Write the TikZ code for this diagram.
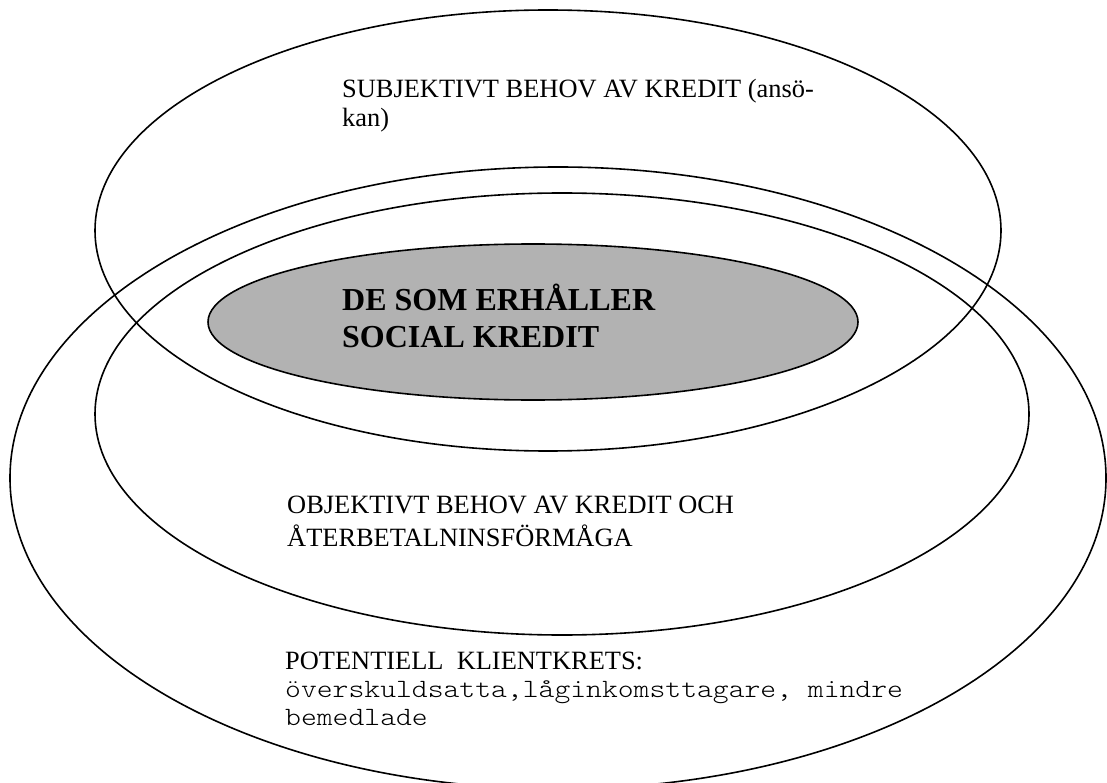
\documentclass[tikz,border=0pt]{standalone}
\usepackage{fontspec}
\setmainfont{Liberation Serif}
\newfontfamily\courlike[FakeStretch=1.143]{lmmonolt10-regular.otf}
\definecolor{fillgray}{RGB}{178,178,178}
\begin{document}
\begin{tikzpicture}[x=1pt,y=1pt,
  ring/.style={draw=black,line width=1.6pt},
  lbl/.style={anchor=base west,inner sep=0pt,font=\fontsize{26.4}{30}\selectfont},
  mono/.style={anchor=base west,inner sep=0pt,font=\fontsize{26.4}{30}\selectfont\courlike},
  boldlbl/.style={anchor=base west,inner sep=0pt,font=\fontsize{32}{37}\selectfont\bfseries}]
\useasboundingbox (0,0) rectangle (1107,-783);
% ellipses
\draw[ring] (558,-478) ellipse [x radius=548, y radius=311];
\draw[ring] (562,-414) ellipse [x radius=467, y radius=221];
\draw[ring] (548,-230.5) ellipse [x radius=453, y radius=220.5];
\draw[ring,fill=fillgray] (533,-322) ellipse [x radius=325, y radius=78];
% texts
\node[lbl] (subj1) at (342,-98) {SUBJEKTIVT BEHOV AV KREDIT (ansö-};
\node[lbl] (subj2) at (342,-127) {kan)};
\node[boldlbl] (rec1) at (342,-310) {DE SOM ERHÅLLER};
\node[boldlbl] (rec2) at (342,-347) {SOCIAL KREDIT};
\node[lbl] (obj1) at (287,-513) {OBJEKTIVT BEHOV AV KREDIT OCH};
\node[lbl] (obj2) at (287,-546) {ÅTERBETALNINSFÖRMÅGA};
\node[lbl] (pot1) at (285,-669) {POTENTIELL\ \ KLIENTKRETS:};
\node[mono] (pot2) at (285,-697) {överskuldsatta,låginkomsttagare, mindre};
\node[mono] (pot3) at (285,-725) {bemedlade};
\end{tikzpicture}
\end{document}
